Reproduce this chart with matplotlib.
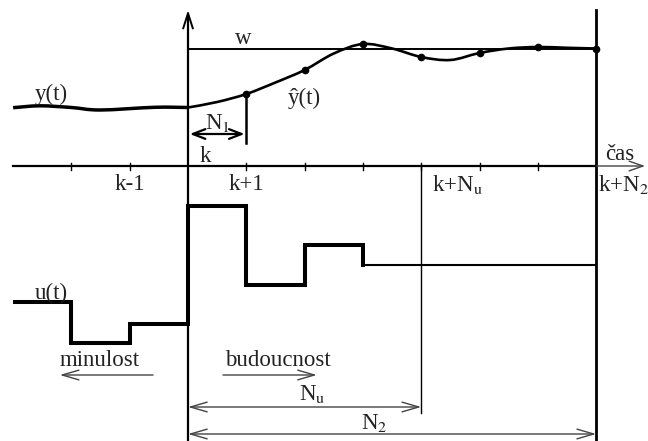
import matplotlib.pyplot as plt
import numpy as np
from matplotlib.path import Path
from matplotlib.patches import PathPatch

plt.rcParams['font.family'] = ['Liberation Serif', 'DejaVu Serif']
plt.rcParams['mathtext.fontset'] = 'stix'

# horizon (in sampling steps, k = 0)
N1 = 1
Nu = 4
N2 = 7
t_start = -3

# measured output y(t) before k
y_past_t = [-3.0, -2.54, -2.0, -1.51, -0.57, 0.0]
y_past = [5.83, 6.02, 5.85, 5.6, 5.87, 5.85]

# predicted output y^(t) after k
y_pred_t = [0.0, 0.5, 1.0, 1.5, 2.0, 2.5, 3.0, 3.5, 4.0, 4.5, 5.0, 5.5, 6.0, 6.5, 7.0]
y_pred = [5.85, 6.4, 7.2, 8.35, 9.6, 11.25, 12.2, 11.75, 10.9, 10.6, 11.3, 11.75, 11.9, 11.82, 11.75]
sample_t = [1, 2, 3, 4, 5, 6, 7]
sample_y = [7.2, 9.6, 12.2, 10.9, 11.3, 11.9, 11.75]

w = 11.7

# control signal u(t), one level per step
u_past = [-13.6, -17.7, -15.8]
u_future = [-4.0, -11.9, -7.9]
u_rest = -9.9

ink = 'black'
grey = '#444444'
txt = '#222222'


def smooth_path(xs, ys):
    # Catmull-Rom through the points, as cubic Bezier segments
    p = np.column_stack([xs, ys])
    p = np.vstack([p[0], p, p[-1]])
    verts = [p[1]]
    codes = [Path.MOVETO]
    for i in range(1, len(p) - 2):
        c1 = p[i] + (p[i + 1] - p[i - 1]) / 6
        c2 = p[i + 1] - (p[i + 2] - p[i]) / 6
        verts += [c1, c2, p[i + 1]]
        codes += [Path.CURVE4] * 3
    return Path(verts, codes)


fig = plt.figure(figsize=(6.48, 4.41), dpi=100)
ax = fig.add_axes([0, 0, 1, 1])
ax.set_xlim(-3.225, 7.89)
ax.set_ylim(-27.5, 16.6)
ax.axis('off')

# time axis with ticks
ax.plot([t_start, N2], [0, 0], color=ink, lw=1.6)
ax.annotate('', xy=(7.84, 0), xytext=(N2, 0),
            arrowprops=dict(arrowstyle='->,head_length=1.0,head_width=0.35',
                            color=grey, lw=1.0, mutation_scale=10, shrinkA=0, shrinkB=0))
for t in range(t_start + 1, N2):
    if t != 0:
        ax.plot([t, t], [-0.35, 0.35], color=ink, lw=1.0)

# vertical axis at k and the end of horizon
ax.plot([0, 0], [-27.5, 15.0], color=ink, lw=1.6)
ax.annotate('', xy=(0, 15.6), xytext=(0, 14.0),
            arrowprops=dict(arrowstyle='->,head_length=1.1,head_width=0.35',
                            color=ink, lw=1.4, mutation_scale=10, shrinkA=0, shrinkB=0))
ax.plot([N2, N2], [-27.5, 15.6], color=ink, lw=2.0)
ax.plot([Nu, Nu], [0, -24.7], color=ink, lw=1.0)

# reference w
ax.plot([0, N2], [w, w], color=ink, lw=1.4)

# outputs
ax.add_patch(PathPatch(smooth_path(y_past_t, y_past), fill=False, color=ink, lw=2.5))
ax.add_patch(PathPatch(smooth_path(y_pred_t, y_pred), fill=False, color=ink, lw=1.9))
ax.plot(sample_t, sample_y, 'o', color=ink, ms=4.5)

# N1 marker
ax.plot([N1, N1], [sample_y[0], 2.3], color=ink, lw=1.8)
ax.annotate('', xy=(0.03, 3.2), xytext=(N1 - 0.03, 3.2),
            arrowprops=dict(arrowstyle='<->,head_length=0.9,head_width=0.35',
                            color=ink, lw=1.6, mutation_scale=10, shrinkA=0, shrinkB=0))

# control signal
u_vals = u_past + u_future
edges = np.arange(t_start, len(u_future) + 1)
ax.stairs(u_vals, edges, baseline=None, color=ink, lw=2.9)
ax.plot([len(u_future), len(u_future)], [u_future[-1], u_rest], color=ink, lw=2.9)
ax.plot([len(u_future), N2], [u_rest, u_rest], color=ink, lw=1.5)

# past / future arrows
arr = dict(arrowstyle='->,head_length=1.2,head_width=0.35', color=grey, lw=1.0,
           mutation_scale=10, shrinkA=0, shrinkB=0)
ax.annotate('', xy=(-2.2, -20.9), xytext=(-0.6, -20.9), arrowprops=arr)
ax.annotate('', xy=(2.21, -20.9), xytext=(0.6, -20.9), arrowprops=arr)

# horizon spans
arr2 = dict(arrowstyle='<->,head_length=1.2,head_width=0.35', color=grey, lw=1.0,
            mutation_scale=10, shrinkA=0, shrinkB=0)
ax.annotate('', xy=(0, -24.1), xytext=(Nu, -24.1), arrowprops=arr2)
ax.annotate('', xy=(0, -26.8), xytext=(N2, -26.8), arrowprops=arr2)

# labels
fs = 16.5
kw = dict(color=txt, fontsize=fs, ha='center', va='center')
ax.text(0.94, 12.8, 'w', **kw)
ax.text(-2.35, 7.2, 'y(t)', **kw)
ax.text(1.99, 6.8, 'ŷ(t)', **kw)
ax.text(0.5, 4.3, r'N$_1$', **kw)
ax.text(0.29, 0.95, 'k', **kw)
ax.text(7.41, 1.15, 'čas', **kw)
ax.text(-1.0, -1.9, 'k-1', **kw)
ax.text(1.0, -1.9, 'k+1', **kw)
ax.text(4.62, -1.9, r'k+N$_\mathrm{u}$', **kw)
ax.text(7.47, -1.9, r'k+N$_2$', **kw)
ax.text(-2.35, -12.7, 'u(t)', **kw)
ax.text(-1.51, -19.4, 'minulost', **kw)
ax.text(1.54, -19.4, 'budoucnost', **kw)
ax.text(2.13, -22.8, r'N$_\mathrm{u}$', **kw)
ax.text(3.2, -25.7, r'N$_2$', **kw)

fig.savefig('out.png', dpi=100)
